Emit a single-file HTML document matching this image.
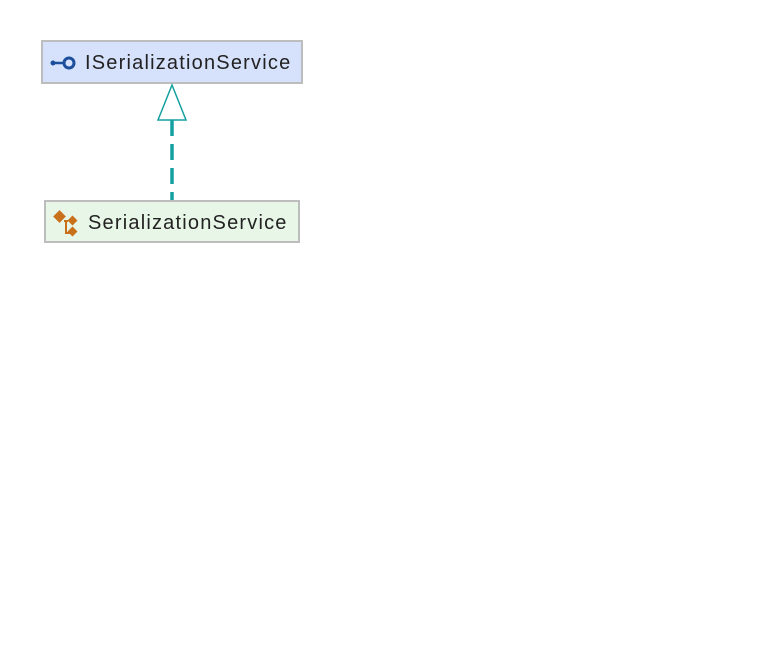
<!DOCTYPE html>
<html><head><meta charset="utf-8"><style>
html,body{margin:0;padding:0;background:#fff;width:772px;height:662px;overflow:hidden}
.box{position:absolute;box-sizing:border-box;border:2px solid #bdbdbd;font-family:"Liberation Sans",sans-serif;font-size:20px;letter-spacing:1.2px;color:#222;line-height:1;white-space:nowrap}
</style></head><body>
<div class="box" style="left:41px;top:40px;width:262px;height:44px;background:#d6e1fb">
<svg style="position:absolute;left:6px;top:11px" width="30" height="20"><circle cx="4" cy="10" r="2.5" fill="#1b4f9c"/><line x1="4" y1="10" x2="14" y2="10" stroke="#1b4f9c" stroke-width="2.5"/><circle cx="20" cy="10" r="5" fill="none" stroke="#1b4f9c" stroke-width="3"/></svg>
<span style="position:absolute;left:42px;top:11px">ISerializationService</span></div>
<div class="box" style="left:44px;top:200px;width:256px;height:43px;background:#e8f6e8">
<svg style="position:absolute;left:6px;top:7px" width="30" height="30"><rect x="3" y="3" width="9" height="9" fill="#c8701a" transform="rotate(45 7.5 7.5)"/><rect x="17" y="8" width="7" height="7" fill="#c8701a" transform="rotate(45 20.5 11.5)"/><rect x="17" y="19" width="7" height="7" fill="#c8701a" transform="rotate(45 20.5 22.5)"/><path d="M12 12 H16 M14 12 V24 H18" stroke="#c8701a" stroke-width="2" fill="none"/></svg>
<span style="position:absolute;left:42px;top:11px">SerializationService</span></div>
<svg style="position:absolute;left:0;top:0" width="772" height="662">
<line x1="172" y1="120" x2="172" y2="200" stroke="#14a0a0" stroke-width="3.5" stroke-dasharray="16,8"/>
<polygon points="172,85 158,120 186,120" fill="#fff" stroke="#14a0a0" stroke-width="1.5"/>
</svg>
</body></html>
